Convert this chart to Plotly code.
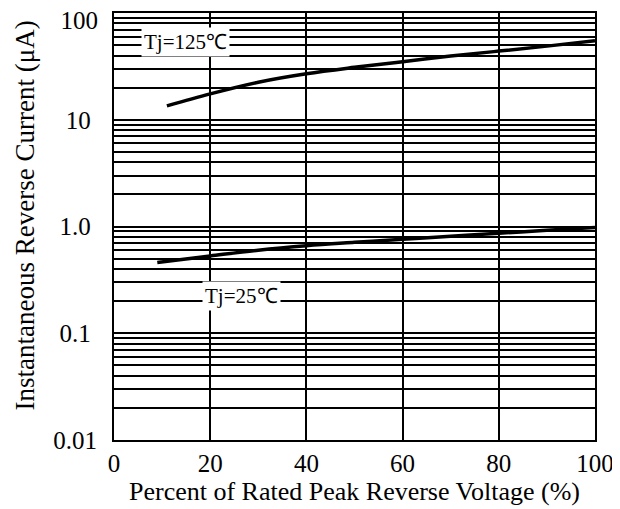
import plotly.graph_objects as go

x_125 = [11, 20, 30, 40, 50, 60, 70, 80, 90, 100]
y_125 = [13.5, 17.5, 22.5, 27, 31, 35, 39.5, 44, 49, 55]
x_25 = [9, 20, 30, 40, 50, 60, 70, 80, 90, 100]
y_25 = [0.46, 0.53, 0.6, 0.66, 0.71, 0.76, 0.81, 0.865, 0.92, 0.98]

x_ticks = [0, 20, 40, 60, 80, 100]
y_ticks = [0.01, 0.1, 1, 10, 100]
y_ticktext = ["0.01", "0.1\u00a0", "1.0\u00a0", "10\u00a0", ""]
y_top_tick = [100]
y_top_text = ["100"]

font_family = "Liberation Serif, Times New Roman, serif"
y_range = [-2.0005, 2.0005]

fig = go.Figure()
fig.add_trace(go.Scatter(x=x_125, y=y_125, mode="lines", line=dict(color="black", width=3.5, shape="spline"), showlegend=False))
fig.add_trace(go.Scatter(x=x_25, y=y_25, mode="lines", yaxis="y2", line=dict(color="black", width=3.5, shape="spline"), showlegend=False))

fig.add_annotation(x=14.8, y=1.728, xref="x", yref="y", text="Tj=125℃", showarrow=False,
                   font=dict(family=font_family, size=21, color="black"), bgcolor="white", borderpad=2)
fig.add_annotation(x=26.6, y=-0.655, xref="x", yref="y", text="Tj=25℃", showarrow=False,
                   font=dict(family=font_family, size=21, color="black"), bgcolor="white", borderpad=2)
fig.add_annotation(x=0, y=0.526, xref="paper", yref="paper", xshift=-89, xanchor="center", yanchor="middle",
                   text="Instantaneous Reverse Current (μA)", textangle=-90, showarrow=False,
                   font=dict(family=font_family, size=27, color="black"))

# page body has an 8px default margin, so the figure is 612x501
fig.update_layout(
    width=612, height=501,
    margin=dict(l=106, r=25, t=5, b=69),
    paper_bgcolor="white", plot_bgcolor="white",
    font=dict(family=font_family, color="black"),
    xaxis=dict(range=[0, 100], tickvals=x_ticks, showgrid=True, gridcolor="black", gridwidth=2,
               showline=True, linecolor="black", linewidth=2, mirror=True, zeroline=False,
               ticks="", tickfont=dict(size=25),
               automargin=False,
               title=dict(text="Percent of Rated Peak Reverse Voltage (%)", font=dict(size=26), standoff=0)),
    yaxis=dict(type="log", range=y_range, tickvals=y_ticks, ticktext=y_ticktext,
               showgrid=True, gridcolor="black", gridwidth=1.5,
               minor=dict(dtick="D1", showgrid=True, gridcolor="black", gridwidth=1.5, ticks=""),
               showline=True, linecolor="black", linewidth=2, mirror=True, zeroline=False,
               ticks="outside", ticklen=10, tickcolor="rgba(0,0,0,0)", tickfont=dict(size=25),
               automargin=False),
    yaxis2=dict(type="log", range=y_range, overlaying="y", side="left", tickvals=y_top_tick, ticktext=y_top_text,
                showgrid=False, showline=False, zeroline=False,
                ticks="outside", ticklen=10, tickcolor="rgba(0,0,0,0)", tickfont=dict(size=25),
                ticklabelshift=7, ticklabeloverflow="allow", automargin=False),
)

fig.write_html("out.html")
